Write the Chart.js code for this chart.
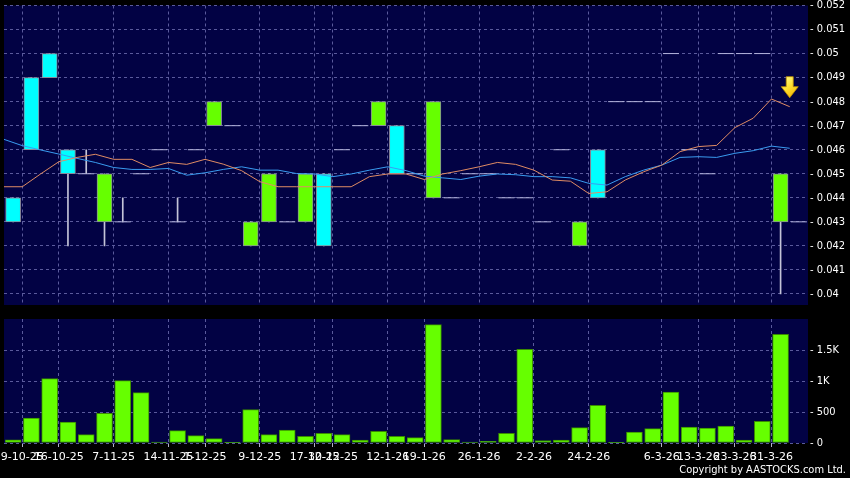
<!DOCTYPE html>
<html>
<head>
<meta charset="utf-8">
<script src="https://cdn.jsdelivr.net/npm/chart.js@4.4.1/dist/chart.umd.min.js"></script>
<style>
html, body { margin: 0; padding: 0; background: #000; }
#wrap { position: relative; width: 850px; height: 478px; overflow: hidden; background: #000; }
#priceChart { position: absolute; left: 0; top: 0; }
#volChart { position: absolute; left: 0; top: 310px; }
#copy { position: absolute; right: 4px; top: 463px; color: #fff; font: 11px 'DejaVu Sans Condensed', 'DejaVu Sans', sans-serif; }
</style>
</head>
<body>
<div id="wrap">
  <canvas id="priceChart" width="850" height="310"></canvas>
  <canvas id="volChart" width="850" height="168"></canvas>
  <div id="copy">Copyright by AASTOCKS.com Ltd.</div>
</div>
<script>
// daily candles (last slot = today's placeholder, no volume)
var openP  = [0.043, 0.046, 0.049, 0.045, 0.045, 0.045, 0.043, 0.045, 0.046, 0.043,
              0.046, 0.048, 0.047, 0.043, 0.045, 0.043, 0.045, 0.042, 0.046, 0.047,
              0.048, 0.045, 0.045, 0.048, 0.044, 0.045, 0.045, 0.044, 0.044, 0.043,
              0.046, 0.043, 0.044, 0.048, 0.048, 0.048, 0.050, 0.046, 0.045, 0.050,
              0.050, 0.050, 0.045, 0.043];
var highP  = [0.044, 0.049, 0.050, 0.046, 0.046, 0.045, 0.044, 0.045, 0.046, 0.044,
              0.046, 0.048, 0.047, 0.043, 0.045, 0.043, 0.045, 0.045, 0.046, 0.047,
              0.048, 0.047, 0.045, 0.048, 0.044, 0.045, 0.045, 0.044, 0.044, 0.043,
              0.046, 0.043, 0.046, 0.048, 0.048, 0.048, 0.050, 0.046, 0.045, 0.050,
              0.050, 0.050, 0.045, 0.043];
var lowP   = [0.043, 0.046, 0.049, 0.042, 0.045, 0.042, 0.043, 0.045, 0.046, 0.043,
              0.046, 0.047, 0.047, 0.042, 0.043, 0.043, 0.043, 0.042, 0.046, 0.047,
              0.047, 0.045, 0.045, 0.044, 0.044, 0.045, 0.045, 0.044, 0.044, 0.043,
              0.046, 0.042, 0.044, 0.048, 0.048, 0.048, 0.050, 0.046, 0.045, 0.050,
              0.050, 0.050, 0.040, 0.043];
var closeP = [0.044, 0.049, 0.050, 0.046, 0.045, 0.043, 0.043, 0.045, 0.046, 0.043,
              0.046, 0.047, 0.047, 0.042, 0.043, 0.043, 0.043, 0.045, 0.046, 0.047,
              0.047, 0.047, 0.045, 0.044, 0.044, 0.045, 0.045, 0.044, 0.044, 0.043,
              0.046, 0.042, 0.046, 0.048, 0.048, 0.048, 0.050, 0.046, 0.045, 0.050,
              0.050, 0.050, 0.043, 0.043];
var volume = [50, 403, 1038, 339, 134, 478, 1005, 812, 15, 199,
              118, 70, 3, 538, 134, 210, 108, 156, 134, 48,
              188, 108, 86, 1908, 54, 16, 27, 156, 1511, 38,
              48, 247, 607, 2, 177, 231, 823, 258, 242, 274,
              48, 349, 1753, 0];
// moving averages (orange = short, blue = long)
var maShort = [0.04446, 0.04446, 0.04499, 0.0455, 0.04568, 0.04581, 0.0456, 0.0456, 0.04526, 0.04547,
               0.04539, 0.0456, 0.0454, 0.04513, 0.04467, 0.04446, 0.04446, 0.04446, 0.04446, 0.04446,
               0.04488, 0.04499, 0.04499, 0.04476, 0.04499, 0.04513, 0.04529, 0.04547, 0.04539, 0.04515,
               0.04474, 0.04469, 0.04418, 0.04425, 0.04474, 0.04508, 0.04536, 0.04592, 0.04613, 0.04618,
               0.04692, 0.04731, 0.04811, 0.04779];
var maLong  = [0.04643, 0.04617, 0.04599, 0.04582, 0.04564, 0.04547, 0.04526, 0.04518, 0.04518, 0.04522,
               0.04494, 0.04504, 0.04518, 0.04529, 0.04515, 0.04515, 0.04501, 0.04499, 0.04488, 0.04499,
               0.04515, 0.04529, 0.04513, 0.0449, 0.04483, 0.04476, 0.0449, 0.04499, 0.04496, 0.04488,
               0.04488, 0.04483, 0.0446, 0.04453, 0.04488, 0.04515, 0.04536, 0.04568, 0.04571, 0.04568,
               0.04585, 0.04596, 0.04615, 0.04606];
// date ticks: slot index and text
var tickSlots  = [1, 3, 6, 9, 11, 14, 17, 18, 21, 23, 26, 29, 32, 36, 38, 40, 42];
var tickLabels = ['9-10-25', '16-10-25', '7-11-25', '14-11-25', '1-12-25', '9-12-25', '17-12-25', '30-12-25',
                  '12-1-26', '19-1-26', '26-1-26', '2-2-26', '24-2-26', '6-3-26', '13-3-26', '23-3-26', '31-3-26'];
var priceTicks = [0.040, 0.041, 0.042, 0.043, 0.044, 0.045, 0.046, 0.047, 0.048, 0.049, 0.050, 0.051, 0.052];
var priceTickLabels = ['0.04', '0.041', '0.042', '0.043', '0.044', '0.045', '0.046', '0.047', '0.048', '0.049', '0.05', '0.051', '0.052'];
var volTicks = [0, 500, 1000, 1500];
var volTickLabels = ['0', '500', '1K', '1.5K'];

var CYAN = '#00ffff';
var GREEN = '#66ff00';
var NAVY = '#020244';
var GRID = '#5a5a9c';

var bodyData = [], bodyColors = [], wickData = [], dojiData = [];
var shortLine = [], longLine = [], volData = [];
openP.forEach(function (o, i) {
    if (o !== closeP[i]) {
        bodyData.push({ x: i, y: [o, closeP[i]] });
        bodyColors.push(closeP[i] > o ? CYAN : GREEN);
    } else {
        dojiData.push({ x: i, y: closeP[i] });
    }
    if (highP[i] > lowP[i]) wickData.push({ x: i, y: [lowP[i], highP[i]] });
    shortLine.push({ x: i - 0.5, y: maShort[i] });
    longLine.push({ x: i - 0.5, y: maLong[i] });
    volData.push({ x: i, y: volume[i] });
});

var plotBg = {
    id: 'plotBg',
    beforeDraw: function (chart) {
        var a = chart.chartArea, c = chart.ctx;
        c.save();
        c.fillStyle = NAVY;
        c.fillRect(a.left, a.top, a.right - a.left, a.bottom - a.top);
        c.restore();
    }
};

var arrowMark = {
    id: 'arrowMark',
    afterDatasetsDraw: function (chart) {
        var n = maShort.length - 1;
        var cx = chart.scales.x.getPixelForValue(n - 0.5);
        var base = chart.scales.y.getPixelForValue(maShort[n]) - 9;
        var c = chart.ctx;
        c.save();
        var g = c.createLinearGradient(cx - 8, base - 21, cx + 6, base);
        g.addColorStop(0, '#ffff90');
        g.addColorStop(0.5, '#ffe030');
        g.addColorStop(1, '#f0b000');
        c.beginPath();
        c.moveTo(cx - 3.5, base - 21);
        c.lineTo(cx + 3.5, base - 21);
        c.lineTo(cx + 3.5, base - 11);
        c.lineTo(cx + 8.5, base - 11);
        c.lineTo(cx, base);
        c.lineTo(cx - 8.5, base - 11);
        c.lineTo(cx - 3.5, base - 11);
        c.closePath();
        c.fillStyle = g;
        c.fill();
        c.strokeStyle = '#c09000';
        c.lineWidth = 0.8;
        c.stroke();
        c.restore();
    }
};

function xAxis(showLabels) {
    return {
        type: 'linear',
        offset: false,
        min: -0.5,
        max: openP.length - 0.5,
        afterBuildTicks: function (s) {
            s.ticks = tickSlots.map(function (v) { return { value: v - 0.5 }; });
        },
        afterFit: function (s) {
            s.paddingLeft = 0;
            s.paddingRight = 0;
            s.height = showLabels ? 35 : 0;
        },
        grid: { offset: false, color: GRID, drawTicks: showLabels, tickLength: 4, tickColor: '#b0b0c8', tickBorderDash: [] },
        border: { display: false, dash: [3, 3] },
        ticks: {
            display: showLabels, autoSkip: false, maxRotation: 0, minRotation: 0, padding: 4,
            color: '#ffffff', font: { family: 'DejaVu Sans', size: 11 },
            callback: function (v, idx) { return tickLabels[idx]; }
        }
    };
}

function yAxis(min, max, values, texts) {
    return {
        type: 'linear',
        position: 'right',
        min: min,
        max: max,
        afterBuildTicks: function (s) {
            s.ticks = values.map(function (v) { return { value: v }; });
        },
        afterFit: function (s) {
            s.width = 42;
            s.paddingTop = 0;
            s.paddingBottom = 0;
        },
        grid: { color: GRID, drawTicks: false },
        border: { display: false, dash: [3, 3] },
        ticks: {
            padding: 2, color: '#ffffff',
            font: { family: "'DejaVu Sans Condensed', 'DejaVu Sans'", size: 11 },
            callback: function (v, idx) { return '- ' + texts[idx]; }
        }
    };
}

new Chart(document.getElementById('priceChart'), {
    type: 'bar',
    data: {
        datasets: [
            { type: 'line', data: shortLine, borderColor: '#e08c64', borderWidth: 1, pointRadius: 0, tension: 0, order: 0 },
            { type: 'line', data: longLine, borderColor: '#3a9cf0', borderWidth: 1, pointRadius: 0, tension: 0, order: 1 },
            { type: 'bar', data: bodyData, backgroundColor: bodyColors, borderColor: '#8a8a9a', borderWidth: 1,
              borderSkipped: false, barThickness: 15, grouped: false, order: 2 },
            { type: 'line', data: dojiData, showLine: false, pointStyle: 'line', pointRadius: 8,
              pointBorderColor: '#b4b4dc', pointBorderWidth: 1, order: 3 },
            { type: 'bar', data: wickData, backgroundColor: '#c4c4d8', borderWidth: 0,
              barThickness: 1, grouped: false, order: 4 }
        ]
    },
    options: {
        responsive: false,
        animation: false,
        devicePixelRatio: 1,
        layout: { autoPadding: false, padding: { left: 4, top: 5.5, right: 0, bottom: 5 } },
        plugins: { legend: { display: false }, tooltip: { enabled: false } },
        scales: {
            x: xAxis(false),
            y: yAxis(0.03954, 0.052, priceTicks, priceTickLabels)
        }
    },
    plugins: [plotBg, arrowMark]
});

new Chart(document.getElementById('volChart'), {
    type: 'bar',
    data: {
        datasets: [
            { data: volData, backgroundColor: GREEN, borderColor: '#3a8a00', borderWidth: 1,
              borderSkipped: false, barThickness: 16, grouped: false }
        ]
    },
    options: {
        responsive: false,
        animation: false,
        devicePixelRatio: 1,
        layout: { autoPadding: false, padding: { left: 4, top: 9, right: 0, bottom: 0 } },
        plugins: { legend: { display: false }, tooltip: { enabled: false } },
        scales: {
            x: xAxis(true),
            y: yAxis(0, 2000, volTicks, volTickLabels)
        }
    },
    plugins: [plotBg]
});
</script>
</body>
</html>
